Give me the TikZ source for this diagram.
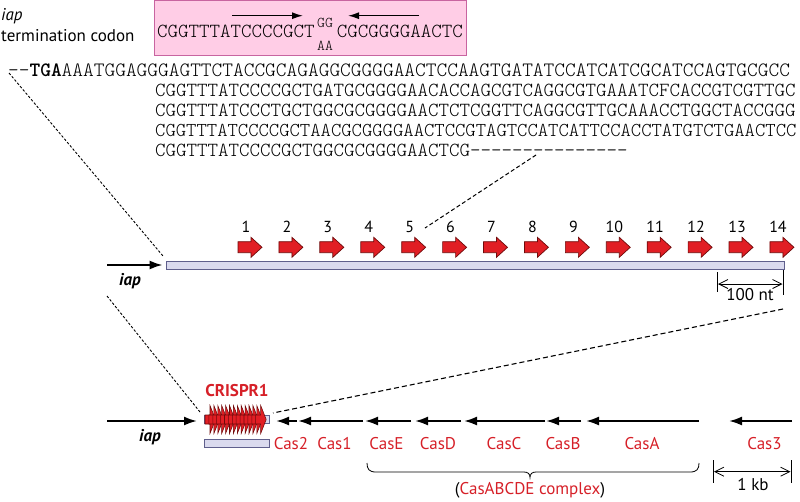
\documentclass[tikz,border=0pt]{standalone}
\usepackage{fontspec}
\setmainfont{PT Sans}
\newfontfamily\seqlight{lmmonolt10-regular}[Extension=.otf, BoldFont=lmmonolt10-bold]
\usetikzlibrary{arrows.meta}
\definecolor{pinkfill}{RGB}{255,205,230}
\definecolor{pinkedge}{RGB}{200,100,160}
\definecolor{lav}{RGB}{218,218,238}
\definecolor{lavedge}{RGB}{95,95,140}
\definecolor{gred}{RGB}{214,32,40}
\definecolor{arrred}{RGB}{225,30,36}
\definecolor{arredge}{RGB}{110,10,10}
\newcommand{\seqf}{\fontsize{20}{22}\selectfont\seqlight}
\newcommand{\seqfa}{\fontsize{20.4}{22}\selectfont\seqlight}
\newcommand{\seqfb}{\fontsize{19.7}{22}\selectfont\seqlight}
\newcommand{\seqfs}{\fontsize{15}{16}\selectfont\seqlight}
\begin{document}
\begin{tikzpicture}[x=1pt,y=-1pt,
  seq/.style={anchor=base west, inner sep=0pt, font=\seqf},
  lbl/.style={inner sep=0pt, anchor=base, font=\fontsize{17}{20}\selectfont},
  cas/.style={lbl, text=gred},
  num/.style={inner sep=0pt, anchor=base, font=\fontsize{16}{19}\selectfont},
  genearrow/.style={line width=2pt, -{Latex[length=13pt,width=9pt]}},
  boxarrow/.style={line width=1.3pt, -{Latex[length=11pt,width=7pt]}},
  scalearrow/.style={line width=0.8pt, {Straight Barb[length=9pt,width=9pt]}-{Straight Barb[length=9pt,width=9pt]}},
  dashA/.style={line width=0.9pt, dash pattern=on 2.5pt off 1.8pt},
  dashC/.style={line width=1pt, dash pattern=on 4pt off 2.5pt},
  dashB/.style={line width=1.1pt, dash pattern=on 5pt off 3pt},
  barbox/.style={draw=lavedge, fill=lav, line width=0.8pt, inner sep=0pt, minimum height=8pt},
  redarrow/.style={fill=arrred, draw=arredge, line width=0.7pt, line join=miter},
  tick/.style={line width=0.8pt}
]
\useasboundingbox (0,0) rectangle (800,501);

% ---------- top-left label ----------
\node[lbl, anchor=base west, font=\fontsize{17}{20}\selectfont\itshape] (iaptop) at (1,20) {iap};
\node[lbl, anchor=base west] (term) at (1,41) {termination codon};

% ---------- pink box ----------
\node[draw=pinkedge, fill=pinkfill, line width=0.8pt, minimum width=312pt, minimum height=55pt, inner sep=0pt] (box) at (310,27.5) {};
\node[seq] (bl) at (157,37.5) {CGGTTTATCCCCGCT};
\node[inner sep=0pt, anchor=base, font=\seqfs] (gg) at (325,27.3) {GG};
\node[inner sep=0pt, anchor=base, font=\seqfs] (aa) at (325,50) {AA};
\node[seq, anchor=base east] (br) at (463,37.5) {CGCGGGGAACTC};
\coordinate (ra1) at (232,15.7); \coordinate (ra2) at (303,15.7);
\coordinate (la1) at (419,15.7); \coordinate (la2) at (348,15.7);
\draw[boxarrow] (ra1) -- (ra2);
\draw[boxarrow] (la1) -- (la2);

% ---------- sequence lines ----------
\node[seq, font=\seqfa] (s1) at (8,76) {-{}-\textbf{TGA}AAATGGAGGGAGTTCTACCGCAGAGGCGGGGAACTCCAAGTGATATCCATCATCGCATCCAGTGCGCC};
\node[seq] (s2) at (155,96) {CGGTTTATCCCCGCTGATGCGGGGAACACCAGCGTCAGGCGTGAAATCFCACCGTCGTTGC};
\node[seq] (s3) at (155,116) {CGGTTTATCCCTGCTGGCGCGGGGAACTCTCGGTTCAGGCGTTGCAAACCTGGCTACCGGG};
\node[seq, font=\seqfb] (s4) at (155,136) {CGGTTTATCCCCGCTAACGCGGGGAACTCCGTAGTCCATCATTCCACCTATGTCTGAACTCC};
\node[seq] (s5) at (155,156) {CGGTTTATCCCCGCTGGCGCGGGGAACTCG-{}-{}-{}-{}-{}-{}-{}-{}-{}-{}-{}-{}-{}-{}-};

% ---------- repeat array ----------
\node[barbox, minimum width=618pt] (bar) at (475,265) {};
\foreach \i in {1,...,14} {
  \pgfmathsetmacro\c{250+(\i-1)*40.92}
  \draw[redarrow] (\c-12,241.7) -- (\c+1,241.7) -- (\c+1,237.3) -- (\c+12,247.3) -- (\c+1,257.3) -- (\c+1,252.7) -- (\c-12,252.7) -- cycle;
  \node[num] (n\i) at (\c-4,232) {\i};
}
\coordinate (iapA) at (107,265);
\draw[genearrow, shorten >=3pt] (iapA) -- (bar.west);
\node[lbl, font=\fontsize{17}{20}\selectfont\bfseries\itshape] (iapmid) at (130,285) {iap};

% 100 nt scale
\coordinate (t1a) at (717.5,272); \coordinate (t1b) at (717.5,292);
\coordinate (t2a) at (783,270); \coordinate (t2b) at (783,295);
\draw[tick] (t1a) -- (t1b);
\draw[tick] (t2a) -- (t2b);
\coordinate (s100a) at (718,284); \coordinate (s100b) at (782.5,284);
\draw[scalearrow] (s100a) -- (s100b);
\node[num, font=\fontsize{17}{19}\selectfont] (nt) at (750,300.5) {100 nt};

% ---------- dashed zoom lines ----------
\coordinate (d1a) at (9,73); \coordinate (d1b) at (163,256);
\draw[dashA] (d1a) -- (d1b);
\coordinate (d2a) at (536,155); \coordinate (d2b) at (425,228);
\draw[dashC] (d2a) -- (d2b);
\coordinate (d3a) at (107,296); \coordinate (d3b) at (200,412);
\draw[dashA] (d3a) -- (d3b);
\coordinate (d4a) at (783,309); \coordinate (d4b) at (273,413);
\draw[dashB] (d4a) -- (d4b);

% ---------- bottom locus ----------
\node[cas, font=\fontsize{17}{20}\selectfont\bfseries] (crispr) at (237,396.5) {CRISPR1};
\node[barbox, minimum width=65pt, minimum height=7.5pt] (cbar) at (236.7,419.5) {};
\foreach \k in {0,...,13} {
  \pgfmathsetmacro\s{205+\k*3.9}
  \draw[redarrow, line width=0.55pt] (\s,415) -- (\s+5,415) -- (\s+5,405.5) -- (\s+10.5,419.5) -- (\s+5,433.5) -- (\s+5,424) -- (\s,424) -- cycle;
}
\node[barbox, minimum width=65pt, minimum height=8pt] (cbar2) at (236.7,443) {};

\coordinate (iapB) at (107,421); \coordinate (iapBt) at (197,421);
\draw[genearrow] (iapB) -- (iapBt);
\node[lbl, font=\fontsize{17}{20}\selectfont\bfseries\itshape] (iapbot) at (150,441) {iap};

% Cas genes (tail -> head)
\foreach \nm/\ta/\hd/\lx in {Cas2/297/276/291, Cas1/363/298/334.5, CasE/411/365/386.5, CasD/461/415/438, CasC/545/464/504, CasB/581/546/563, CasA/699/586/642, Cas3/792/729/764.5} {
  \coordinate (\nm t) at (\ta,421);
  \coordinate (\nm h) at (\hd,421);
  \draw[genearrow] (\nm t) -- (\nm h);
  \node[cas] (\nm) at (\lx,449) {\nm};
}

% brace
\coordinate (brL) at (367,463); \coordinate (brR) at (699,463);
\draw[line width=0.8pt] (brL) .. controls (367,469) and (369,472) .. (376,472) -- (524,472)
   .. controls (528,472) and (530,474) .. (530,477.5)
   .. controls (530,474) and (532,472) .. (536,472) -- (690,472)
   .. controls (697,472) and (699,469) .. (brR);
\node[lbl] (complex) at (530,494) {(\textcolor{gred}{CasABCDE complex})};

% 1 kb scale
\coordinate (k1a) at (713.3,460); \coordinate (k1b) at (713.3,483);
\coordinate (k2a) at (791,460); \coordinate (k2b) at (791,483);
\draw[tick] (k1a) -- (k1b);
\draw[tick] (k2a) -- (k2b);
\coordinate (kba) at (714,471.7); \coordinate (kbb) at (790.5,471.7);
\draw[scalearrow] (kba) -- (kbb);
\node[num, font=\fontsize{17}{19}\selectfont] (kb) at (753,490) {1 kb};
\end{tikzpicture}
\end{document}
